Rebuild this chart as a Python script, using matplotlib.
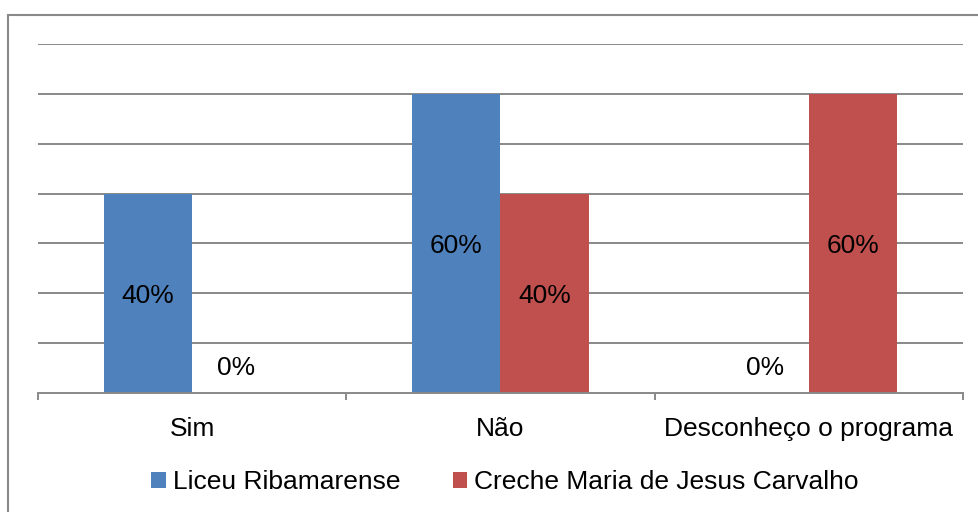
import numpy as np
import matplotlib.pyplot as plt
from matplotlib.patches import Rectangle, Patch

plt.rcParams['font.family'] = ['Liberation Sans', 'DejaVu Sans']

categorias = ['Sim', 'Não', 'Desconheço o programa']
series = ['Liceu Ribamarense', 'Creche Maria de Jesus Carvalho']
liceu = [0.40, 0.60, 0.00]
creche = [0.00, 0.40, 0.60]
cores = ['#4F81BD', '#C0504D']

W, H = 979, 512
fig = plt.figure(figsize=(W / 100, H / 100), dpi=100)
ax = fig.add_axes([38 / W, 119 / H, 925 / W, 349 / H])

x = np.arange(len(categorias))
larg = 1 / 3.5
fs = 19

for vals, cor, desloc in [(liceu, cores[0], -larg / 2), (creche, cores[1], larg / 2)]:
    ax.bar(x + desloc, vals, width=larg, color=cor, zorder=3)
    for xi, v in zip(x + desloc, vals):
        txt = f'{v * 100:.0f}%'
        # rótulos no meio da barra; o zero fica um pouco acima do eixo
        dy = -2 if v > 0 else 18
        ax.annotate(txt, xy=(xi, v / 2), xytext=(0, dy), textcoords='offset points',
                    ha='center', va='center', fontsize=fs, zorder=4)

ax.set_xlim(-0.5, 2.5)
ax.set_ylim(0, 0.7)

# grade horizontal
for g in np.arange(0.1, 0.71, 0.1):
    ax.axhline(g, color='#898989', linewidth=1.4, zorder=1)

for s in ['top', 'right', 'left']:
    ax.spines[s].set_visible(False)
ax.spines['bottom'].set_color('#898989')
ax.spines['bottom'].set_linewidth(1.4)
ax.spines['bottom'].set_zorder(5)

ax.set_yticks([])
ax.set_xticks([-0.5, 0.5, 1.5, 2.5])
ax.set_xticklabels([])
ax.tick_params(axis='x', which='major', direction='out', length=5, width=1.4, color='#898989')
ax.set_xticks(x, minor=True)
ax.set_xticklabels(categorias, minor=True, fontsize=fs)
ax.tick_params(axis='x', which='minor', length=0, pad=17)

handles = [Patch(facecolor=c, edgecolor='none') for c in cores]
fig.legend(handles, series, loc='center', bbox_to_anchor=(505 / W, 1 - 482 / H),
           ncol=2, frameon=False, fontsize=fs, handlelength=0.55, handleheight=0.55,
           handletextpad=0.25, columnspacing=2.0)

# moldura do gráfico
fig.patches.append(Rectangle((8 / W, -0.1), 1.2, 1.1 - 15 / H, transform=fig.transFigure,
                             fill=False, edgecolor='#898989', linewidth=1.5))

fig.savefig('out.png', dpi=100)
